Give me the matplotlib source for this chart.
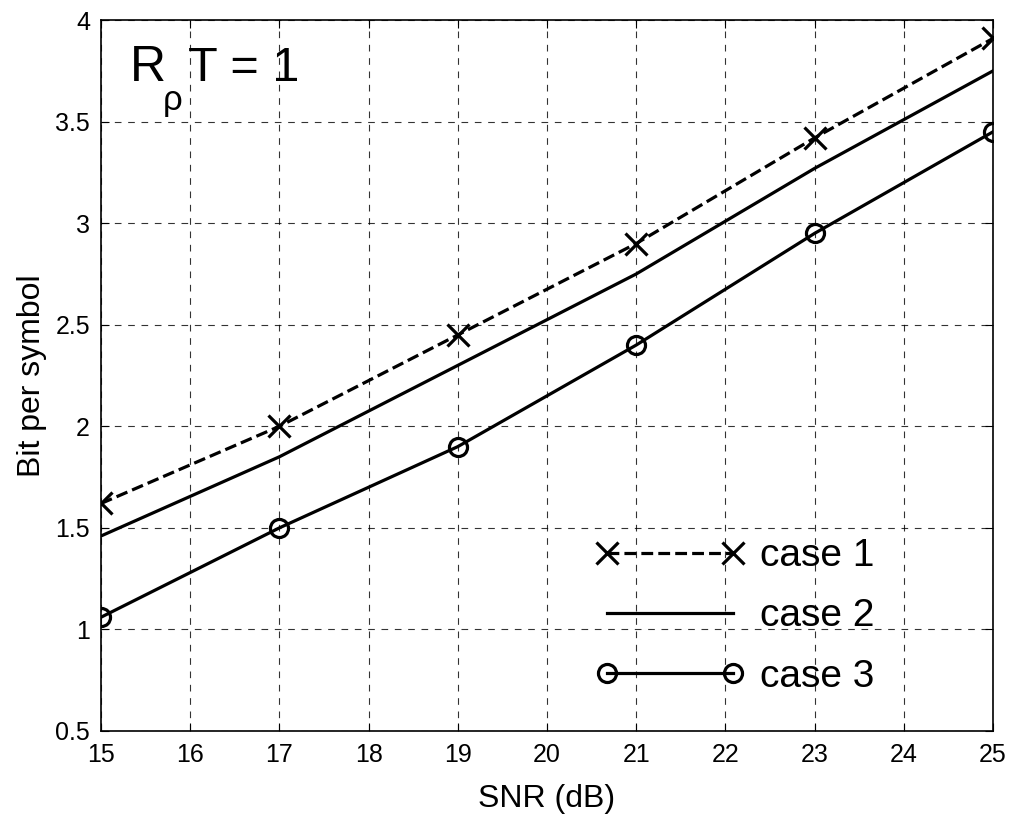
import matplotlib.pyplot as plt
from matplotlib.ticker import FormatStrFormatter, MultipleLocator

# ---- Данные ----
snr = [15, 17, 19, 21, 23, 25]
case1 = [1.62, 2.00, 2.45, 2.90, 3.42, 3.91]
case2 = [1.46, 1.85, 2.30, 2.75, 3.27, 3.75]
case3 = [1.06, 1.50, 1.90, 2.40, 2.95, 3.45]

plt.rcParams['font.family'] = ['Liberation Sans', 'DejaVu Sans']

fig = plt.figure(figsize=(10.12, 8.18), dpi=100)
ax = fig.add_axes([0.0998, 0.1064, 0.8814, 0.869])

ax.plot(snr, case1, 'k--x', lw=2.3, ms=16, mew=2.3, label='case 1')
ax.plot(snr, case2, 'k-', lw=2.3, label='case 2')
ax.plot(snr, case3, 'k-o', lw=2.3, ms=13, mew=2.3, mfc='none', label='case 3')

ax.set_xlim(15, 25)
ax.set_ylim(0.5, 4)
ax.xaxis.set_major_locator(MultipleLocator(1))
ax.yaxis.set_major_locator(MultipleLocator(0.5))
ax.yaxis.set_major_formatter(FormatStrFormatter('%g'))
ax.tick_params(direction='in', top=True, right=True, labelsize=18, length=6)
ax.tick_params(axis='x', pad=9)
ax.tick_params(axis='y', pad=8)
ax.grid(True, color='black', linestyle=(0, (6, 6)), linewidth=0.8, alpha=0.8)
for s in ax.spines.values():
    s.set_linewidth(1.2)

ax.set_xlabel('SNR (dB)', fontsize=23, labelpad=12)
ax.set_ylabel('Bit per symbol', fontsize=23, labelpad=6)

# ---- Надпись R_rho T = 1 ----
ax.text(0.0325, 0.914, 'R', transform=ax.transAxes, fontsize=36, va='baseline')
ax.text(0.069, 0.874, 'ρ', transform=ax.transAxes, fontsize=25, va='baseline')
ax.text(0.0975, 0.914, 'T = 1', transform=ax.transAxes, fontsize=35, va='baseline')

ax.legend(loc='upper left', bbox_to_anchor=(0.554, 0.271), fontsize=28,
          frameon=False, numpoints=2, handlelength=3.84, handletextpad=0.4,
          labelspacing=0.62, borderpad=0, borderaxespad=0)

fig.savefig('out.png', dpi=100)
